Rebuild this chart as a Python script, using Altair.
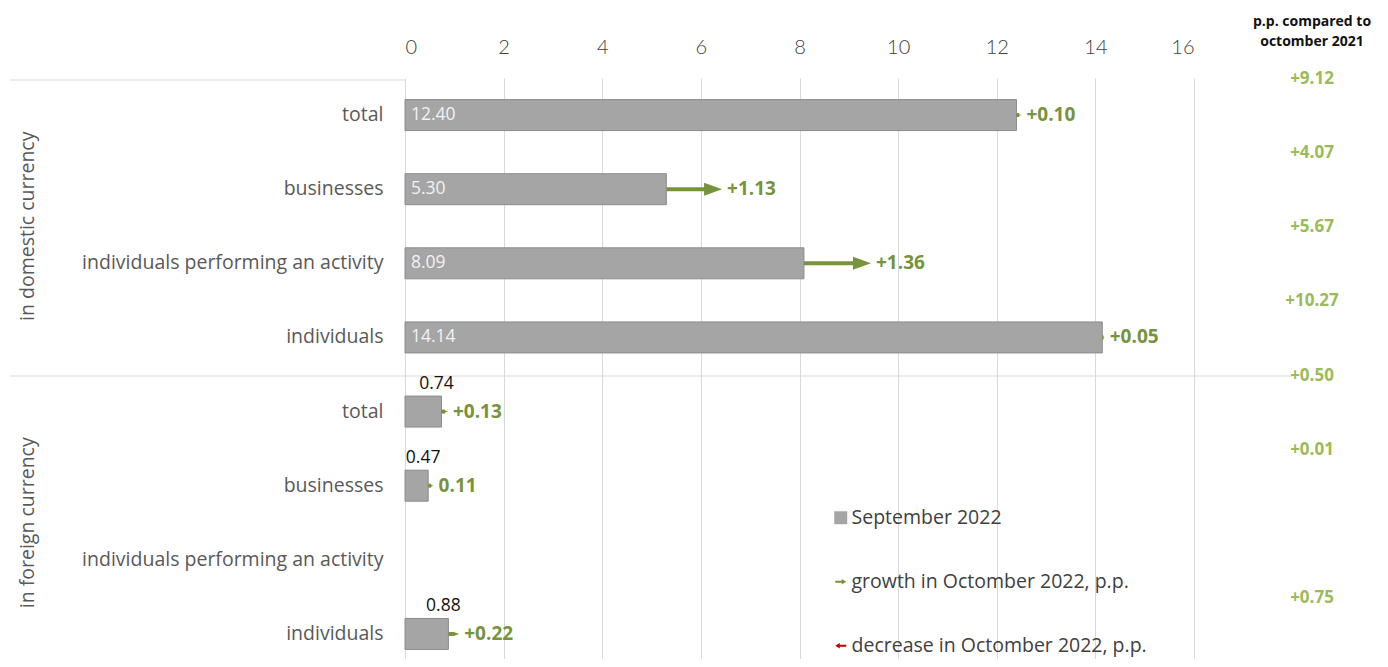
import altair as alt
import pandas as pd

# ---------------- data ----------------
categories = ["total", "businesses", "individuals performing an activity", "individuals",
              "total", "businesses", "individuals performing an activity", "individuals"]
groups = ["in domestic currency"] * 4 + ["in foreign currency"] * 4
sept_values = [12.40, 5.30, 8.09, 14.14, 0.74, 0.47, None, 0.88]
value_labels = ["12.40", "5.30", "8.09", "14.14", "0.74", "0.47", "", "0.88"]
oct_change = [0.10, 1.13, 1.36, 0.05, 0.13, 0.11, None, 0.22]
change_labels = ["+0.10", "+1.13", "+1.36", "+0.05", "+0.13", "0.11", "", "+0.22"]
yoy_labels = ["+9.12", "+4.07", "+5.67", "+10.27", "+0.50", "+0.01", "", "+0.75"]
x_ticks = [0, 2, 4, 6, 8, 10, 12, 14, 16]
header_lines = ["p.p. compared to", "octomber  2021"]
legend_series = ["September 2022", "growth in Octomber 2022, p.p.", "decrease in Octomber 2022, p.p."]

GREEN = "#77933c"
RED = "#c00000"
BAR = "#a5a5a5"
GRAY_TXT = "#595959"
FONT = "Open Sans"

ids = [f"{i}|{n}" for i, n in enumerate(categories)]
df = pd.DataFrame({
    "id": ids, "grp": groups, "v": sept_values, "vlab": value_labels,
    "c": oct_change, "clab": change_labels, "ylab": yoy_labels,
})
df["dom"] = [g == "in domestic currency" for g in groups]

group_df = pd.DataFrame({"grp": ["in domestic currency", "in foreign currency"],
                         "anchor": [ids[1], ids[5]]})
legend_df = pd.DataFrame({"series": legend_series})
header_df = pd.DataFrame({"k": [0]})

yscale = alt.Scale(domain=ids, paddingInner=0, paddingOuter=0, range=[0, 593])
xscale = alt.Scale(domain=[0, 16], nice=False, zero=True)

base = alt.Chart(df)

Y = alt.Y("id:N", scale=yscale, sort=None,
          axis=alt.Axis(title=None, labelExpr="split(datum.label, '|')[1]",
                        ticks=False, domain=False, labelFont=FONT, labelFontSize=19.5,
                        labelColor=GRAY_TXT, labelPadding=22, grid=False, labelLimit=400))

bars = base.transform_filter("isValid(datum.v)").mark_bar(
    size=31, color=BAR, stroke="#8c8c8c", strokeWidth=1
).encode(
    x=alt.X("v:Q", scale=xscale,
            axis=alt.Axis(orient="top", values=x_ticks, title=None, grid=True,
                          gridColor="#d9d9d9", domain=False, ticks=False,
                          labelFont="Lato", labelFontWeight=300, labelFontSize=20,
                          labelColor="#404040", labelPadding=21)),
    y=Y,
)

inside_labels = base.transform_filter("datum.dom && isValid(datum.v)").mark_text(
    align="left", baseline="middle", dx=6, font=FONT, fontSize=17.5, color="#f2f2f2"
).encode(x=alt.datum(0, scale=xscale), y=alt.Y("id:N", scale=yscale, sort=None), text="vlab:N")

above_labels = base.transform_filter("!datum.dom && isValid(datum.v)").mark_text(
    align="center", baseline="middle", dx=-5, dy=-28, font=FONT, fontSize=17.5, color="#111111"
).encode(x=alt.X("v:Q", scale=xscale), y=alt.Y("id:N", scale=yscale, sort=None), text="vlab:N")

shafts = base.transform_filter("isValid(datum.c)").transform_calculate(
    s="datum.v", e="datum.v + max(datum.c * 0.55, datum.c - 0.3)"
).mark_rule(strokeWidth=4, color=GREEN).encode(
    x=alt.X("s:Q", scale=xscale), x2="e:Q", y=alt.Y("id:N", scale=yscale, sort=None)
)

heads = base.transform_filter("isValid(datum.c)").transform_calculate(
    tip="datum.v + datum.c"
).mark_point(filled=True, opacity=1, color=GREEN, strokeWidth=0,
             shape="M-1,-0.36L0,0L-1,0.36Z").encode(
    x=alt.X("tip:Q", scale=xscale), y=alt.Y("id:N", scale=yscale, sort=None),
    size=alt.Size("c:Q", scale=alt.Scale(type="pow", exponent=2, domain=[0, 0.7],
                                         range=[0, 1296], clamp=True), legend=None),
)

change_text = base.transform_filter("isValid(datum.c)").transform_calculate(
    tip="datum.v + datum.c"
).mark_text(align="left", baseline="middle", dx=5, font=FONT, fontSize=19,
            fontWeight="bold", color=GREEN).encode(
    x=alt.X("tip:Q", scale=xscale), y=alt.Y("id:N", scale=yscale, sort=None), text="clab:N"
)

yoy_text = base.transform_filter("datum.ylab != ''").mark_text(
    align="center", baseline="middle", dy=-36, font=FONT, fontSize=17,
    fontWeight="bold", color="#9bbb59"
).encode(x=alt.value(907), y=alt.Y("id:N", scale=yscale, sort=None), text="ylab:N")

header = alt.Chart(header_df).mark_text(
    text=header_lines, align="center", baseline="middle", lineHeight=20,
    font=FONT, fontSize=14, fontWeight="bold", color="#111111"
).encode(x=alt.value(907), y=alt.value(-56))

group_text = alt.Chart(group_df).mark_text(
    angle=270, align="center", baseline="middle", font=FONT, fontSize=19.5, color=GRAY_TXT
).encode(x=alt.value(-377),
         y=alt.Y("anchor:N", scale=yscale, sort=None, bandPosition=1),
         text="grp:N")

sep_line = alt.Chart(header_df).mark_rule(color="#d9d9d9", strokeWidth=1.2).encode(
    x=alt.value(-395), x2=alt.value(888), y=alt.value(298))
top_line = alt.Chart(header_df).mark_rule(color="#d9d9d9", strokeWidth=1.2).encode(
    x=alt.value(-395), x2=alt.value(0), y=alt.value(2))

leg = alt.Legend(title=None, orient="none", legendX=426, legendY=430,
                 labelFont=FONT, labelFontSize=19.5, labelColor="#404040", labelLimit=500,
                 symbolSize=169, rowPadding=43, labelOffset=1, symbolStrokeWidth=0)
legend_layer = alt.Chart(legend_df).mark_point(filled=True, opacity=1, strokeWidth=0).encode(
    x=alt.value(-3000), y=alt.value(-3000),
    color=alt.Color("series:N", scale=alt.Scale(domain=legend_series, range=[BAR, GREEN, RED]),
                    legend=leg),
    shape=alt.Shape("series:N", scale=alt.Scale(
        domain=legend_series,
        range=["M-1,-1H1V1H-1Z",
               "M-0.85,-0.14H0.15V-0.42L0.85,0L0.15,0.42V0.14H-0.85Z",
               "M0.85,-0.14H-0.15V-0.42L-0.85,0L-0.15,0.42V0.14H0.85Z"]),
        legend=leg),
)

chart = alt.layer(
    top_line, sep_line, bars, inside_labels, above_labels, shafts, heads, change_text,
    yoy_text, header, group_text, legend_layer
).properties(
    width=789, height=581,
    autosize=alt.AutoSizeParams(type="none"),
    padding={"left": 397, "top": 70, "right": 184, "bottom": 0},
).configure_view(stroke=None).configure_legend(symbolStrokeWidth=0)

chart.save("out.html", embed_options={"renderer": "svg", "actions": False})
